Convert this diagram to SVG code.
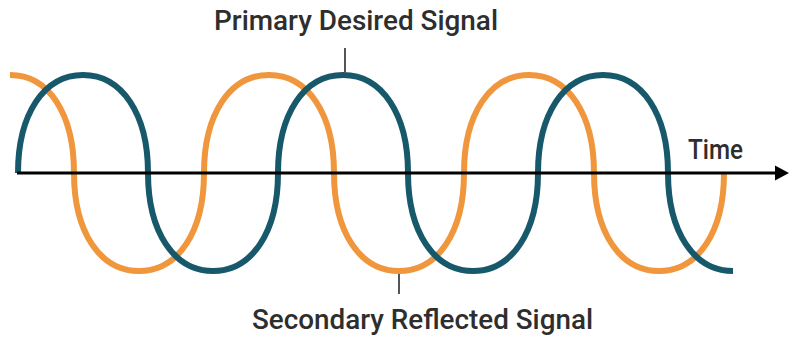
<svg xmlns="http://www.w3.org/2000/svg" width="789" height="346" viewBox="0 0 789 346">
<defs>
<style>
.wave{fill:none;stroke-width:6;stroke-linecap:butt}
.blue{stroke:#17596b}
.orange{stroke:#f0963c}
.axis{stroke:#000;stroke-width:3;fill:none}
.lead{stroke:#555;stroke-width:2}
.lbl{font-family:Roboto,"Liberation Sans",Arial,sans-serif;font-weight:500;font-size:27px;fill:#2e2e2e}
</style>
</defs>
<rect width="789" height="346" fill="#fff"/>
<g id="secondary-signal">
<path class="wave orange" d="M10,75 C49,75 74,114 74,173 C74,232 100,271 139,271 C178,271 204,232 204,173 C204,114 230,75 269,75 C308,75 334,114 334,173 C334,232 360,271 399,271 C438,271 464,232 464,173 C464,114 490,75 529,75 C568,75 594,114 594,173 C594,232 620,271 659,271 C698,271 724,232 724,173"/>
</g>
<g id="primary-signal">
<path class="wave blue" d="M18,173 C18,114 44,75 83,75 C122,75 148,114 148,173 C148,232 174,271 213,271 C252,271 278,232 278,173 C278,114 304,75 343,75 C382,75 408,114 408,173 C408,232 434,271 473,271 C512,271 538,232 538,173 C538,114 564,75 603,75 C642,75 668,114 668,173 C668,232 694,271 733,271"/>
</g>
<g id="time-axis">
<line class="axis" x1="17" y1="173" x2="778" y2="173"/>
<polygon points="775,165.5 789,173 775,180.5" fill="#000"/>
<text class="lbl" x="688" y="159" textLength="55" lengthAdjust="spacingAndGlyphs">Time</text>
</g>
<g id="connectors">
<line class="lead" x1="345" y1="48" x2="345" y2="73"/>
<line class="lead" x1="399" y1="274" x2="399" y2="294"/>
</g>
<g id="label-primary">
<text class="lbl" x="214" y="30" textLength="284" lengthAdjust="spacingAndGlyphs">Primary Desired Signal</text>
</g>
<g id="label-secondary">
<text class="lbl" x="252" y="329" textLength="341" lengthAdjust="spacingAndGlyphs">Secondary Reflected Signal</text>
</g>
</svg>
